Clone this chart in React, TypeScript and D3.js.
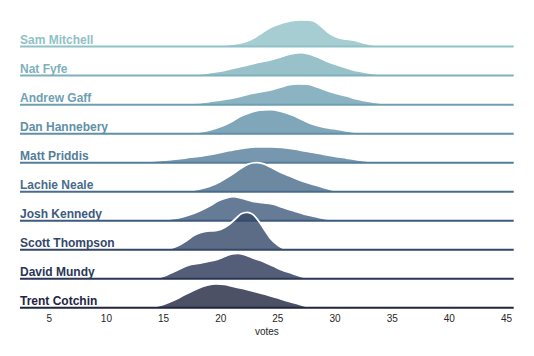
import React from "react";
import * as d3 from "d3";

// Players, top row to bottom row
const players = [
  "Sam Mitchell",
  "Nat Fyfe",
  "Andrew Gaff",
  "Dan Hannebery",
  "Matt Priddis",
  "Lachie Neale",
  "Josh Kennedy",
  "Scott Thompson",
  "David Mundy",
  "Trent Cotchin",
];

// Density curves: [votes, density]
const samMitchell: [number, number][] = [
  [18.8, 0], [19.6, 0.003], [20.5, 0.006], [21.5, 0.011], [22.3, 0.019], [22.8, 0.028],
  [23.4, 0.043], [24.0, 0.058], [24.6, 0.07], [25.2, 0.079], [26.1, 0.089], [27.0, 0.092],
  [27.8, 0.091], [28.3, 0.085], [28.8, 0.07], [29.3, 0.052], [29.8, 0.039], [30.4, 0.029],
  [31.0, 0.026], [31.6, 0.022], [32.5, 0.013], [33.4, 0.005], [34.0, 0.002], [34.6, 0],
];
const natFyfe: [number, number][] = [
  [17.0, 0], [17.8, 0.003], [18.5, 0.007], [19.5, 0.013], [20.5, 0.02], [21.7, 0.031],
  [23.0, 0.043], [24.6, 0.057], [25.6, 0.069], [26.4, 0.077], [27.0, 0.079], [27.6, 0.076],
  [28.7, 0.06], [29.8, 0.042], [31.0, 0.027], [32.0, 0.016], [32.8, 0.01], [33.7, 0.005],
  [34.5, 0.002], [35.3, 0],
];
const andrewGaff: [number, number][] = [
  [16.3, 0], [17.2, 0.003], [18.0, 0.006], [19.2, 0.012], [20.3, 0.018], [21.2, 0.024],
  [22.2, 0.034], [23.3, 0.043], [24.3, 0.05], [25.2, 0.06], [26.0, 0.069], [26.8, 0.072],
  [27.6, 0.071], [28.5, 0.06], [29.8, 0.042], [31.0, 0.03], [32.0, 0.019], [33.0, 0.011],
  [34.0, 0.005], [34.8, 0.002], [35.5, 0],
];
const danHannebery: [number, number][] = [
  [16.8, 0], [17.6, 0.003], [18.2, 0.006], [19.0, 0.012], [19.9, 0.023], [20.5, 0.033],
  [21.1, 0.045], [21.7, 0.059], [22.5, 0.072], [23.4, 0.081], [24.3, 0.083], [25.2, 0.078],
  [26.3, 0.064], [27.2, 0.047], [28.1, 0.032], [29.0, 0.023], [29.9, 0.017], [31.0, 0.01],
  [32.0, 0.004], [32.8, 0.001], [33.3, 0],
];
const mattPriddis: [number, number][] = [
  [12.6, 0], [13.5, 0.003], [14.5, 0.007], [16.0, 0.012], [17.0, 0.017], [18.2, 0.023],
  [19.5, 0.031], [20.5, 0.04], [21.5, 0.047], [22.5, 0.053], [23.4, 0.055], [24.5, 0.055],
  [25.5, 0.052], [26.5, 0.047], [27.3, 0.041], [28.1, 0.036], [29.0, 0.029], [30.0, 0.022],
  [31.0, 0.016], [32.0, 0.01], [33.0, 0.005], [33.8, 0.002], [34.5, 0],
];
const lachieNeale: [number, number][] = [
  [16.5, 0], [17.3, 0.003], [18.0, 0.008], [19.0, 0.018], [19.9, 0.034], [20.8, 0.055],
  [21.7, 0.079], [22.4, 0.095], [23.1, 0.1], [23.7, 0.097], [24.3, 0.086], [25.0, 0.072],
  [25.8, 0.058], [26.7, 0.043], [27.5, 0.032], [28.4, 0.022], [29.2, 0.012], [30.0, 0.004],
  [30.7, 0],
];
const joshKennedy: [number, number][] = [
  [14.2, 0], [15.0, 0.003], [15.8, 0.007], [16.5, 0.012], [17.3, 0.021], [18.2, 0.035],
  [19.1, 0.053], [19.8, 0.069], [20.5, 0.079], [21.1, 0.083], [21.8, 0.078], [22.8, 0.067],
  [23.8, 0.062], [24.6, 0.057], [25.5, 0.045], [26.4, 0.034], [27.3, 0.023], [28.3, 0.014],
  [29.1, 0.007], [29.8, 0.003], [30.5, 0],
];
const scottThompson: [number, number][] = [
  [14.9, 0], [15.5, 0.004], [16.0, 0.01], [16.4, 0.017], [17.0, 0.031], [17.6, 0.048],
  [18.2, 0.059], [18.8, 0.064], [19.5, 0.066], [20.0, 0.07], [20.7, 0.086], [21.3, 0.107],
  [21.8, 0.124], [22.3, 0.129], [22.8, 0.122], [23.3, 0.1], [23.8, 0.071], [24.3, 0.042],
  [24.9, 0.019], [25.4, 0.006], [25.9, 0],
];
const davidMundy: [number, number][] = [
  [13.9, 0], [14.5, 0.004], [15.0, 0.009], [15.6, 0.019], [16.4, 0.034], [17.2, 0.047],
  [18.0, 0.053], [18.9, 0.06], [19.7, 0.067], [20.4, 0.078], [21.0, 0.086], [21.5, 0.088],
  [22.0, 0.084], [22.8, 0.072], [23.7, 0.06], [24.6, 0.044], [25.4, 0.03], [26.3, 0.018],
  [27.0, 0.008], [27.6, 0.003], [28.2, 0],
];
const trentCotchin: [number, number][] = [
  [13.2, 0], [13.9, 0.003], [14.5, 0.007], [15.0, 0.012], [15.9, 0.026], [16.6, 0.04],
  [17.3, 0.054], [18.0, 0.067], [18.8, 0.078], [19.6, 0.083], [20.3, 0.081], [20.9, 0.076],
  [22.0, 0.066], [23.1, 0.055], [24.0, 0.045], [25.0, 0.034], [25.9, 0.023], [26.9, 0.012],
  [27.5, 0.005], [28.2, 0],
];

const densities = [
  samMitchell, natFyfe, andrewGaff, danHannebery, mattPriddis,
  lachieNeale, joshKennedy, scottThompson, davidMundy, trentCotchin,
];

const xTicks = [5, 10, 15, 20, 25, 30, 35, 40, 45];
const xLabel = "votes";

// seaborn cubehelix_palette(10, rot=-.25, light=.7)
function cubehelixColor(t: number): string {
  const start = 0, rot = -0.25, gamma = 1, hue = 0.8;
  const idx = Math.min(255, Math.floor(t * 256));
  const x = idx / 255;
  const xg = Math.pow(x, gamma);
  const a = (hue * xg * (1 - xg)) / 2;
  const phi = 2 * Math.PI * (start / 3 + rot * x);
  const f = (p0: number, p1: number) =>
    Math.max(0, Math.min(1, xg + a * (p0 * Math.cos(phi) + p1 * Math.sin(phi))));
  const r = f(-0.14861, 1.78277);
  const g = f(-0.29227, -0.90649);
  const b = f(1.97294, 0.0);
  return d3.rgb(r * 255, g * 255, b * 255).formatHex();
}

const palette = d3.range(10).map((i) => cubehelixColor(0.7 + (i * (0.15 - 0.7)) / 9));

export default function App() {
  const W = 534;
  const H = 356;
  const font = "'Liberation Sans', Arial, Helvetica, sans-serif";

  const x = d3.scaleLinear().domain([2.44, 45.63]).range([20, 513.7]);
  const rowY = d3.scalePoint<string>().domain(players).range([46.6, 307.8]);
  const h = d3.scaleLinear().domain([0, 0.1]).range([0, 29]);

  return (
    <svg
      width={W}
      height={H}
      style={{ position: "absolute", left: 0, top: 0, background: "#fff" }}
    >
      {players.map((p, i) => {
        const base = rowY(p) as number;
        const data = densities[i];
        const area = d3
          .area<[number, number]>()
          .x((d) => x(d[0]))
          .y0(base)
          .y1((d) => base - h(d[1]))
          .curve(d3.curveMonotoneX);
        const line = d3
          .line<[number, number]>()
          .x((d) => x(d[0]))
          .y((d) => base - h(d[1]))
          .curve(d3.curveMonotoneX);
        const color = palette[i];
        return (
          <g key={p}>
            <path d={area(data) || ""} fill={color} fillOpacity={0.8} stroke="none" />
            <path d={line(data) || ""} fill="none" stroke="#fff" strokeWidth={1.8} />
            <line
              x1={x.range()[0]}
              x2={x.range()[1]}
              y1={base}
              y2={base}
              stroke={color}
              strokeWidth={2}
            />
            <text
              x={20}
              y={base - 2.6}
              fontFamily={font}
              fontWeight="bold"
              fontSize={12}
              fill={color}
            >
              {p}
            </text>
          </g>
        );
      })}
      {xTicks.map((t) => (
        <text
          key={t}
          x={x(t)}
          y={322.3}
          textAnchor="middle"
          fontFamily={font}
          fontSize={10}
          fill="#262626"
        >
          {t}
        </text>
      ))}
      <text
        x={(x.range()[0] + x.range()[1]) / 2}
        y={334.5}
        textAnchor="middle"
        fontFamily={font}
        fontSize={10}
        fill="#262626"
      >
        {xLabel}
      </text>
    </svg>
  );
}
